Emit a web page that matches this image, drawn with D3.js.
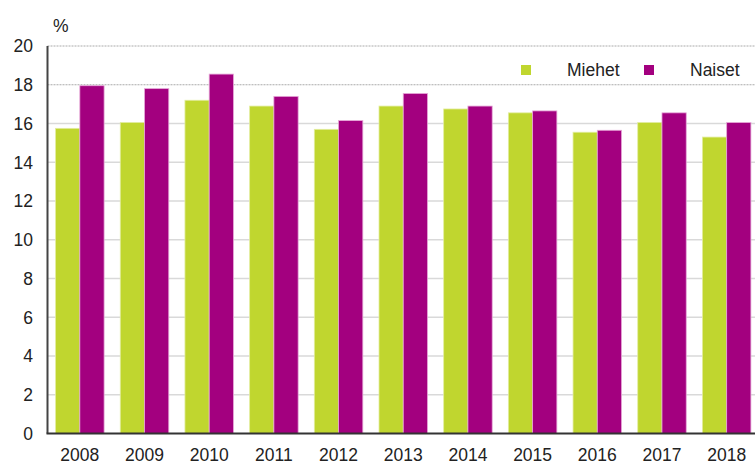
<!DOCTYPE html>
<head>
  <meta charset="utf-8">
  <script src="https://d3js.org/d3.v7.min.js"></script>
  <style>
    body { margin:0; background:#fff; }
    text { font-family: "Liberation Sans", Arial, sans-serif; fill:#222; }
  </style>
</head>
<body>
<script>
  var years = ["2008","2009","2010","2011","2012","2013","2014","2015","2016","2017","2018"];
  var seriesNames = ["Miehet", "Naiset"];
  var miehet = [15.75, 16.05, 17.2, 16.9, 15.7, 16.9, 16.75, 16.55, 15.55, 16.05, 15.3];
  var naiset = [17.95, 17.8, 18.55, 17.4, 16.15, 17.55, 16.9, 16.65, 15.65, 16.55, 16.05];
  var yTicks = [0, 2, 4, 6, 8, 10, 12, 14, 16, 18, 20];
  var colors = ["#c0d62f", "#a3007f"];

  var W = 755, H = 465;
  var margin = {top: 46, left: 47.5, bottom: 31.5};
  var plotRight = 759;

  var svg = d3.select("body").append("svg")
    .attr("width", W)
    .attr("height", H);

  var x = d3.scaleBand()
    .domain(years)
    .range([margin.left, plotRight])
    .paddingInner(0.25)
    .paddingOuter(0.125);

  var x1 = d3.scaleBand()
    .domain(seriesNames)
    .range([0, x.bandwidth()]);

  var y = d3.scaleLinear()
    .domain([0, 20])
    .range([H - margin.bottom, margin.top]);

  // gridlines (top two dotted, rest solid)
  svg.append("g").selectAll("line").data(yTicks.filter(function(d) { return d > 0; })).enter()
    .append("line")
    .attr("x1", margin.left)
    .attr("x2", W)
    .attr("y1", function(d) { return y(d); })
    .attr("y2", function(d) { return y(d); })
    .attr("stroke", function(d) { return d >= 18 ? "#aaa" : "#d9d9d9"; })
    .attr("stroke-width", function(d) { return d >= 18 ? 1 : 1.5; })
    .attr("stroke-dasharray", function(d) { return d >= 18 ? "2,1" : null; });

  // bars
  var rows = years.map(function(yr, i) {
    return {year: yr, vals: [{name: "Miehet", v: miehet[i]}, {name: "Naiset", v: naiset[i]}]};
  });

  var groups = svg.append("g").selectAll("g").data(rows).enter()
    .append("g")
    .attr("transform", function(d) { return "translate(" + x(d.year) + ",0)"; });

  groups.selectAll("rect").data(function(d) { return d.vals; }).enter()
    .append("rect")
    .attr("x", function(d) { return x1(d.name); })
    .attr("width", x1.bandwidth())
    .attr("y", function(d) { return y(d.v); })
    .attr("height", function(d) { return y(0) - y(d.v); })
    .attr("fill", function(d, i) { return colors[i]; })
    .attr("stroke", function(d, i) { return i === 0 ? "#e3eda0" : "#e6a8d8"; })
    .attr("stroke-width", 0.8);

  // axes
  svg.append("line")
    .attr("x1", margin.left).attr("x2", margin.left)
    .attr("y1", y(20)).attr("y2", y(0))
    .attr("stroke", "#444").attr("stroke-width", 2);

  svg.append("line")
    .attr("x1", margin.left - 1).attr("x2", W)
    .attr("y1", y(0)).attr("y2", y(0))
    .attr("stroke", "#333").attr("stroke-width", 2);

  // y tick labels
  svg.append("g").selectAll("text").data(yTicks).enter()
    .append("text")
    .attr("x", 33)
    .attr("y", function(d) { return y(d); })
    .attr("dy", "0.36em")
    .attr("text-anchor", "end")
    .style("font-size", "17.5px")
    .text(function(d) { return d; });

  // x tick labels
  svg.append("g").selectAll("text").data(years).enter()
    .append("text")
    .attr("x", function(d) { return x(d) + x.bandwidth() / 2; })
    .attr("y", 461)
    .attr("text-anchor", "middle")
    .style("font-size", "17.5px")
    .text(function(d) { return d; });

  // unit
  svg.append("text")
    .attr("x", 53)
    .attr("y", 32)
    .style("font-size", "17.5px")
    .text("%");

  // legend
  var legend = svg.append("g").selectAll("g").data(seriesNames).enter()
    .append("g")
    .attr("transform", function(d, i) { return "translate(" + (521 + i * 123) + ",65)"; });

  legend.append("rect")
    .attr("width", 10).attr("height", 10)
    .attr("fill", function(d, i) { return colors[i]; });

  legend.append("text")
    .attr("x", 46)
    .attr("y", 11)
    .style("font-size", "17.5px")
    .text(function(d) { return d; });
</script>
</body>
